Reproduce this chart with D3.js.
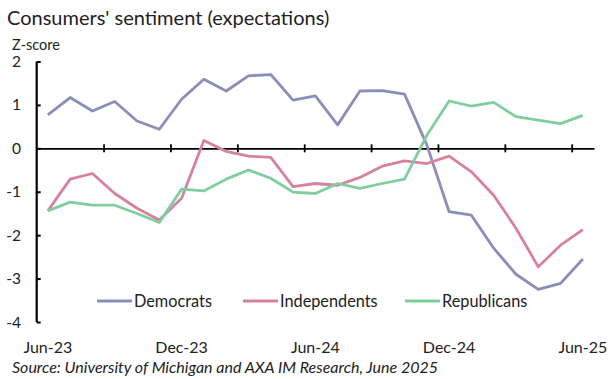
<!DOCTYPE html>
<html>
<head>
<meta charset="utf-8">
<script src="https://cdn.jsdelivr.net/npm/d3@7"></script>
<style>
  body { margin: 0; background: #fff; }
  svg { display: block; font-family: Lato, "Open Sans", sans-serif; }
</style>
</head>
<body>
<div id="chart"></div>
<script>
// monthly observations, Jun-23 .. Jun-25
const months = ["Jun-23","Jul-23","Aug-23","Sep-23","Oct-23","Nov-23","Dec-23",
  "Jan-24","Feb-24","Mar-24","Apr-24","May-24","Jun-24","Jul-24","Aug-24","Sep-24",
  "Oct-24","Nov-24","Dec-24","Jan-25","Feb-25","Mar-25","Apr-25","May-25","Jun-25"];

const democrats = [0.77, 1.17, 0.86, 1.08, 0.63, 0.44, 1.13, 1.59, 1.32, 1.67, 1.70, 1.11,
  1.21, 0.54, 1.32, 1.33, 1.25, 0.08, -1.46, -1.54, -2.30, -2.90, -3.25, -3.11, -2.55];
const independents = [-1.44, -0.71, -0.58, -1.04, -1.38, -1.65, -1.15, 0.18, -0.07, -0.18, -0.21, -0.88,
  -0.81, -0.85, -0.67, -0.41, -0.29, -0.35, -0.18, -0.54, -1.08, -1.84, -2.73, -2.23, -1.87];
const republicans = [-1.44, -1.24, -1.31, -1.31, -1.50, -1.71, -0.94, -0.98, -0.71, -0.50, -0.69, -1.01,
  -1.04, -0.81, -0.92, -0.81, -0.71, 0.30, 1.09, 0.97, 1.06, 0.73, 0.65, 0.57, 0.76];

const seriesNames = ["Democrats", "Independents", "Republicans"];
const seriesColors = ["#8e8cb8", "#d6829f", "#7fcf9c"];
const yTicks = [2, 1, 0, -1, -2, -3, -4];
const xLabels = ["Jun-23", "Dec-23", "Jun-24", "Dec-24", "Jun-25"];

const W = 614, H = 379;
const plot = {left: 36.7, right: 594, top: 61.5, bottom: 322};

const svg = d3.select("#chart").append("svg")
  .attr("width", W).attr("height", H);

// scales
const x = d3.scaleBand().domain(months).range([plot.left, plot.right]).padding(0);
const xIdx = d3.scaleLinear().domain([0, months.length]).range([plot.left, plot.right]);
const y = d3.scaleLinear().domain([-4, 2]).range([plot.bottom, plot.top]);

// title
svg.append("text").attr("x", 7).attr("y", 25)
  .attr("font-size", 20).attr("fill", "#222")
  .text("Consumers' sentiment (expectations)");
svg.append("text").attr("x", 12).attr("y", 50)
  .attr("font-size", 14.5).attr("fill", "#222")
  .text("Z-score");

// y axis
const yAxis = svg.append("g")
  .attr("transform", "translate(" + plot.left + ",0)")
  .call(d3.axisRight(y).tickValues(yTicks).tickSize(4).tickFormat(""));
yAxis.select(".domain").attr("stroke", "#000").attr("stroke-width", 2.2)
  .attr("d", "M0," + y(2) + "V" + y(-4));
yAxis.selectAll(".tick line").attr("stroke", "#000").attr("stroke-width", 2);

svg.selectAll(".ylab").data(yTicks).enter().append("text")
  .attr("class", "ylab")
  .attr("x", 21).attr("y", d => y(d) + 5.5)
  .attr("text-anchor", "end").attr("font-size", 15.5).attr("fill", "#222")
  .text(d => d);

// x axis at zero, ticks every three months crossing the line
const tickIdx = d3.range(3, months.length, 3);
const xAxisG = svg.append("g").attr("transform", "translate(0," + y(0) + ")");
xAxisG.call(d3.axisBottom(xIdx).tickValues(tickIdx).tickSize(4).tickFormat("").tickSizeOuter(0));
xAxisG.append("g")
  .call(d3.axisTop(xIdx).tickValues(tickIdx).tickSize(4).tickFormat("").tickSizeOuter(0))
  .select(".domain").remove();
xAxisG.selectAll("path.domain").attr("stroke", "#000").attr("stroke-width", 1.8);
xAxisG.selectAll(".tick line").attr("stroke", "#000").attr("stroke-width", 1.8);

// x labels at the bottom
const xLabG = svg.append("g").attr("transform", "translate(0," + 339 + ")")
  .call(d3.axisBottom(x).tickValues(xLabels).tickSize(0));
xLabG.select(".domain").remove();
xLabG.selectAll("text").attr("font-size", 16).attr("fill", "#222")
  .attr("font-family", "Lato, 'Open Sans', sans-serif");

// lines
const allSeries = [democrats, independents, republicans];
const line = d3.line()
  .x((d, i) => x(months[i]) + x.bandwidth() / 2)
  .y(d => y(d));

svg.selectAll(".series").data(allSeries).enter().append("path")
  .attr("class", "series")
  .attr("fill", "none")
  .attr("stroke", (d, i) => seriesColors[i])
  .attr("stroke-width", 2.8)
  .attr("stroke-linejoin", "round")
  .attr("d", line);

// legend
const legendX = [97, 243, 405];
const lg = svg.selectAll(".leg").data(seriesNames).enter().append("g")
  .attr("class", "leg")
  .attr("transform", (d, i) => "translate(" + legendX[i] + ",301)");
lg.append("line").attr("x1", 0).attr("x2", 35).attr("y1", 0).attr("y2", 0)
  .attr("stroke", (d, i) => seriesColors[i]).attr("stroke-width", 3);
lg.append("text").attr("x", 37).attr("y", 6)
  .attr("font-size", 16.3).attr("fill", "#222")
  .text(d => d);

// source
svg.append("text").attr("x", 12).attr("y", 373)
  .attr("font-size", 16).attr("font-style", "italic").attr("fill", "#222")
  .text("Source: University of Michigan and AXA IM Research, June 2025");
</script>
</body>
</html>
